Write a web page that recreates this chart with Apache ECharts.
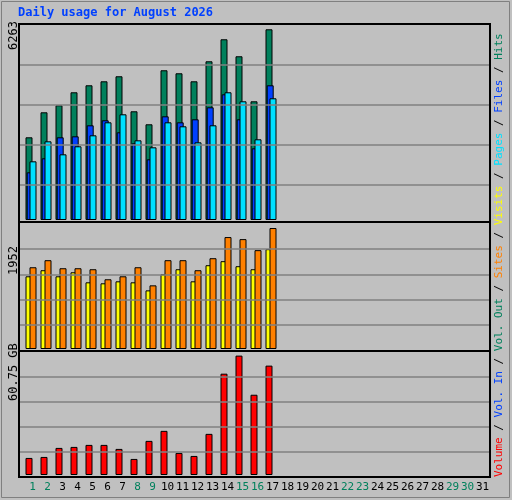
<!DOCTYPE html>
<html><head><meta charset="utf-8">
<script src="https://cdn.jsdelivr.net/npm/echarts@6/dist/echarts.min.js"></script>
<style>html,body{margin:0;padding:0;background:#c0c0c0}#c{width:512px;height:500px}</style>
</head><body><div id="c"></div>
<script>
var days = [];
for (var d = 1; d <= 31; d++) days.push(String(d));
var weekendDays = ['1','2','8','9','15','16','22','23','29','30'];
var hits  = [2716,3537,3767,4194,4424,4555,4720,3570,3143,4917,4818,4555,5212,5935,5377,3898,6263];
var files = [1566,2026,2716,2748,3110,3274,2880,2519,1993,3405,3208,3307,3701,4128,3307,2354,4424];
var pages = [1927,2584,2157,2420,2781,3208,3471,2617,2387,3208,3077,2551,3110,4194,3898,2650,3997];
var visits= [1173,1271,1173,1238,1076,1060,1092,1076,946,1206,1287,1092,1352,1417,1336,1287,1611];
var sites = [1319,1433,1303,1303,1287,1125,1173,1319,1027,1433,1433,1271,1465,1806,1773,1595,1952];
var volumeGB = [8.68,9.19,13.78,14.29,15.32,15.32,13.27,8.17,17.36,22.46,11.23,9.70,20.93,51.56,60.75,40.84,55.65];
var topMax = 6263, midMax = 1952, botMax = 60.75;
var topLines = [1150,2463,3777,5090], midLines = [396,801,1206,1611], botLines = [11.9,24.66,37.4,50.2];

var mono = 'DejaVu Sans Mono';
var panels = [{top:25,h:195,max:6404},{top:224,h:125,max:2017},{top:353,h:122,max:62.08}];
var gridDefs = [
 [0,21.5],[0,22.7],[0,25.5],[1,21.5],[1,25.5],[2,21.5],[0,20],[1,20],[2,20],[2,25]
];
var grids=[],xAxes=[],yAxes=[];
gridDefs.forEach(function(g,i){
  var p=panels[g[0]], base = g[1]===20, lbl = i===9;
  var w = base?470:465;
  grids.push({left:g[1],top:p.top,width:w,height:p.h,show:false});
  xAxes.push({type:'category',gridIndex:i,data:days,boundaryGap:true,show:lbl,
    axisLine:{show:false},axisTick:{show:false},
    axisLabel:{show:lbl,interval:0,margin:7,fontFamily:mono,fontSize:11,
      formatter:function(v){return weekendDays.indexOf(v)>=0?'{w|'+v+'}':'{n|'+v+'}';},
      rich:{w:{color:'#00805c',fontFamily:mono,fontSize:11},n:{color:'#000',fontFamily:mono,fontSize:11}}}});
  yAxes.push({type:'value',gridIndex:i,min:0,max:p.max,show:false,splitLine:{show:false}});
});
function bars(data,color,gi,z){
  return {type:'bar',xAxisIndex:gi,yAxisIndex:gi,data:data,barWidth:7,z:z,silent:true,
    itemStyle:{color:color,borderColor:'#000',borderWidth:1}};
}
function lines(vals,gi){
  return {type:'line',xAxisIndex:gi,yAxisIndex:gi,data:[],z:1,silent:true,
    markLine:{silent:true,symbol:'none',label:{show:false},animation:false,
      lineStyle:{color:'#808080',type:'solid',width:1.5},data:vals.map(function(v){return {yAxis:v};})}};
}
var series=[
  lines(topLines,6),lines(midLines,7),lines(botLines,8),
  bars(hits,'#00805c',0,2),bars(files,'#0040ff',1,3),bars(pages,'#00e0ff',2,4),
  bars(visits,'#ffff00',3,2),bars(sites,'#ff8000',4,3),
  bars(volumeGB,'#ff0000',5,2)
];
var graphic=[
  {type:'rect',shape:{x:1.5,y:1.5,width:508,height:496},style:{fill:'none',stroke:'#808080',lineWidth:1},z:0},
  {type:'rect',shape:{x:19,y:24,width:471,height:453},style:{fill:'none',stroke:'#000',lineWidth:2},z:10},
  {type:'line',shape:{x1:19,y1:222,x2:490,y2:222},style:{stroke:'#000',lineWidth:2},z:10},
  {type:'line',shape:{x1:19,y1:351,x2:490,y2:351},style:{stroke:'#000',lineWidth:2},z:10},
  {type:'text',left:18,top:7,style:{text:'Daily usage for August 2026',fill:'#0040ff',font:'bold 12px '+mono},z:10},
  {type:'text',x:8,y:50,rotation:Math.PI/2,style:{text:'6263',fill:'#000',font:'12px '+mono},z:10},
  {type:'text',x:8,y:275,rotation:Math.PI/2,style:{text:'1952',fill:'#000',font:'12px '+mono},z:10},
  {type:'text',x:8,y:401,rotation:Math.PI/2,style:{text:'60.75 GB',fill:'#000',font:'12px '+mono},z:10},
  {type:'text',x:494,y:477,rotation:Math.PI/2,z:10,style:{font:'11px '+mono,
    rich:{r:{fill:'#ff0000',font:'11px '+mono},b:{fill:'#0040ff',font:'11px '+mono},g:{fill:'#00805c',font:'11px '+mono},
      o:{fill:'#ff8000',font:'11px '+mono},y:{fill:'#ffff00',font:'11px '+mono},c:{fill:'#00e0ff',font:'11px '+mono},k:{fill:'#000',font:'11px '+mono}},
    text:'{r|Volume}{k| / }{b|Vol. In}{k| / }{g|Vol. Out}{k| / }{o|Sites}{k| / }{y|Visits}{k| / }{c|Pages}{k| / }{b|Files}{k| / }{g|Hits}'}}
];
var chart=echarts.init(document.getElementById('c'));
chart.setOption({animation:false,backgroundColor:'#c0c0c0',grid:grids,xAxis:xAxes,yAxis:yAxes,series:series,graphic:graphic});
</script></body></html>
